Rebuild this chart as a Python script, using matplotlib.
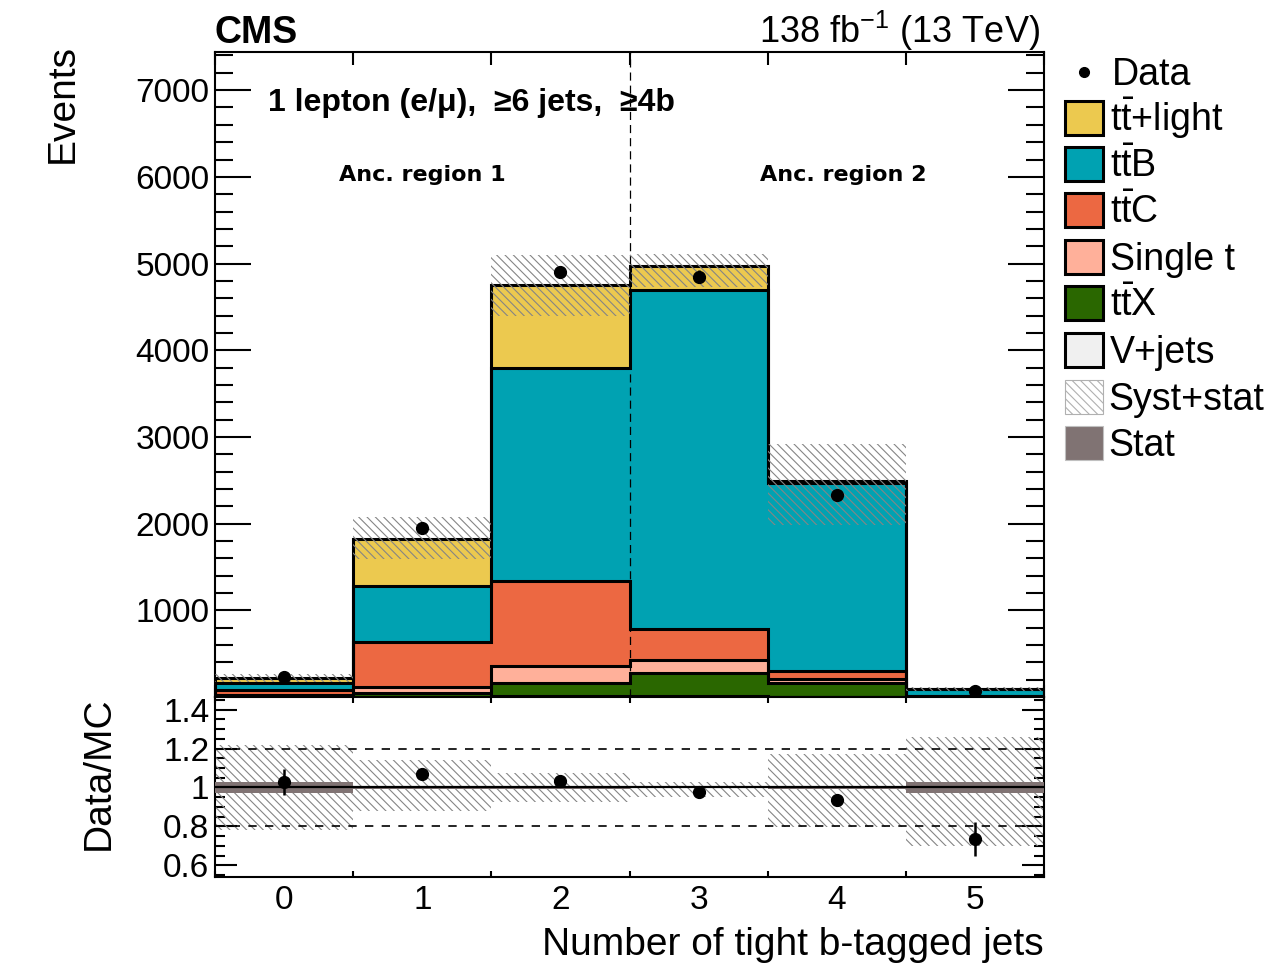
import numpy as np
import matplotlib
matplotlib.use("Agg")
import matplotlib.pyplot as plt
from matplotlib.patches import Rectangle
from matplotlib.lines import Line2D
from matplotlib.ticker import MultipleLocator, FuncFormatter

plt.rcParams['font.family'] = ['Liberation Sans', 'DejaVu Sans']
plt.rcParams['mathtext.fontset'] = 'custom'
plt.rcParams['mathtext.rm'] = 'Liberation Sans'
plt.rcParams['mathtext.it'] = 'Liberation Sans:italic'
plt.rcParams['mathtext.bf'] = 'Liberation Sans:bold'
plt.rcParams['hatch.linewidth'] = 0.8

# number of tight b-tagged jets (bins 0..5)
n_btag = np.arange(6)

# expected yields per process, stacked bottom -> top
vjets   = np.array([2, 5, 10, 10, 5, 1])
ttx     = np.array([8, 45, 155, 263, 156, 3])
singlet = np.array([8, 70, 193, 154, 50, 2])
ttc     = np.array([58, 520, 980, 354, 92, 6])
ttb     = np.array([80, 640, 2457, 3913, 2160, 80])
ttlight = np.array([66, 540, 957, 277, 28, 3])

data = np.array([228, 1947, 4900, 4850, 2325, 70])

# relative uncertainties on the total prediction
syst_up   = np.array([0.218, 0.140, 0.074, 0.027, 0.171, 0.26])
syst_down = np.array([0.220, 0.123, 0.074, 0.048, 0.204, 0.30])
stat_unc  = np.array([0.028, 0.010, 0.006, 0.005, 0.008, 0.030])

processes = [
    ('V+jets', vjets, '#f0f0f0'),
    (r'$\mathrm{t\bar{t}}$X', ttx, '#2a6700'),
    ('Single t', singlet, '#ffb09a'),
    (r'$\mathrm{t\bar{t}}$C', ttc, '#ec6842'),
    (r'$\mathrm{t\bar{t}}$B', ttb, '#00a2b2'),
    (r'$\mathrm{t\bar{t}}$+light', ttlight, '#ecc94f'),
]

edges = np.append(n_btag - 0.5, n_btag[-1] + 0.5)
total = sum(p[1] for p in processes).astype(float)

W, H = 1287, 969
fig = plt.figure(figsize=(W / 100, H / 100), dpi=100)
ax = fig.add_axes([215 / W, 1 - 697 / H, 829 / W, 645 / H])
rax = fig.add_axes([215 / W, 1 - 877 / H, 829 / W, 180 / H], sharex=ax)

hatch = '\\\\\\\\'
hatch_col = '#858585'

# stacked histograms
cum = np.zeros(6)
levels = []
for label, vals, col in processes:
    top = cum + vals
    ax.stairs(top, edges, baseline=cum, fill=True, color=col, lw=0, zorder=2)
    levels.append(top)
    cum = top
for lev in levels:
    ax.stairs(lev, edges, baseline=0, color='k', lw=2.2, zorder=3)

# total uncertainty band
ax.bar(n_btag, total * (syst_up + syst_down), bottom=total * (1 - syst_down),
       width=1, fill=False, hatch=hatch, edgecolor=hatch_col, lw=0, zorder=4)

ax.errorbar(n_btag, data, yerr=np.sqrt(data), fmt='o', color='k', ms=8.5,
            elinewidth=1.8, capsize=0, zorder=6)

ax.axvline(2.5, color='k', lw=0.9, dashes=(6.5, 4), zorder=5)

ax.set_xlim(edges[0], edges[-1])
ax.set_ylim(0, 7440)
ax.set_yticks(np.arange(1000, 7001, 1000))
ax.yaxis.set_minor_locator(MultipleLocator(200))
ax.set_xticks(edges)
ax.tick_params(axis='both', which='both', direction='in', top=True, right=True,
               labelbottom=False, labelsize=24, width=1.5, pad=4)
ax.tick_params(axis='y', which='major', length=26)
ax.tick_params(axis='y', which='minor', length=13)
ax.tick_params(axis='x', which='major', length=9)
ax.tick_params(axis='x', which='minor', length=0)
for s in ax.spines.values():
    s.set_linewidth(1.5)

ax.set_ylabel('Events', fontsize=28, loc='top')
ax.yaxis.set_label_coords(-0.162, 1.012)

ax.text(0.064, 0.921, '1 lepton (e/μ),  ≥6 jets,  ≥4b',
        transform=ax.transAxes, fontsize=23, fontweight='bold', va='center')
ax.text(1.0, 0.809, 'Anc. region 1', transform=ax.get_xaxis_transform(),
        fontsize=16, fontweight='bold', family='DejaVu Sans', ha='center', va='center')
ax.text(4.05, 0.809, 'Anc. region 2', transform=ax.get_xaxis_transform(),
        fontsize=16, fontweight='bold', family='DejaVu Sans', ha='center', va='center')

fig.text(215 / W, 1 - 43 / H, 'CMS', fontsize=27, fontweight='bold', va='baseline')
fig.text(1040 / W, 1 - 43 / H, r'138 fb$^{-1}$ (13 TeV)', fontsize=26,
         ha='right', va='baseline')

# ratio panel
ratio = data / total
ratio_err = np.sqrt(data) / total
rax.bar(n_btag, syst_up + syst_down, bottom=1 - syst_down, width=1, fill=False,
        hatch=hatch, edgecolor=hatch_col, lw=0, zorder=2)
rax.bar(n_btag, 2 * stat_unc, bottom=1 - stat_unc, width=1, color='#807373',
        lw=0, zorder=3)
rax.axhline(1.0, color='k', lw=1.6, zorder=4)
for yv in (0.8, 1.2):
    rax.axhline(yv, color='k', lw=1.2, dashes=(5, 5), zorder=4)
rax.errorbar(n_btag, ratio, yerr=ratio_err, fmt='o', color='k', ms=8.5,
             elinewidth=1.8, capsize=0, zorder=6)

rax.set_ylim(0.54, 1.465)
rax.set_yticks([0.6, 0.8, 1.0, 1.2, 1.4])
rax.yaxis.set_minor_locator(MultipleLocator(0.05))
rax.yaxis.set_major_formatter(FuncFormatter(lambda v, _: f'{v:g}'))
rax.set_xticks(edges)
rax.set_xticklabels([])
rax.set_xticks(n_btag, minor=True)
rax.set_xticklabels([str(n) for n in n_btag], minor=True)
rax.tick_params(axis='both', which='both', direction='in', top=True, right=True,
                labelsize=24, width=1.5)
rax.tick_params(axis='y', which='major', length=16, pad=4)
rax.tick_params(axis='y', which='minor', length=7)
rax.tick_params(axis='x', which='major', length=4.5)
rax.tick_params(axis='x', which='minor', length=0, pad=6)
for s in rax.spines.values():
    s.set_linewidth(1.5)

rax.set_ylabel('Data/MC', fontsize=28, loc='top')
rax.yaxis.set_label_coords(-0.118, 1.0)
rax.set_xlabel('Number of tight b-tagged jets', fontsize=28, loc='right')
rax.xaxis.set_label_coords(1.0, -0.28)

# legend, drawn in figure pixel coordinates
def fx(x):
    return x / W


def fy(y):
    return 1 - y / H


rows = [72, 118, 164, 210, 257, 303, 350, 397, 443]
fig.add_artist(Line2D([fx(1084)], [fy(rows[0])], marker='o', color='k', ms=7,
                      transform=fig.transFigure))
fig.text(fx(1112), fy(rows[0] + 13), 'Data', fontsize=27, va='baseline')
entries = [(lab, col) for lab, _, col in reversed(processes)]
for (lab, col), yc in zip(entries, rows[1:7]):
    fig.add_artist(Rectangle((fx(1065), fy(yc + 17)), 38 / W, 34 / H,
                             facecolor=col, edgecolor='k', lw=2.2,
                             transform=fig.transFigure))
    fig.text(fx(1110), fy(yc + 13), lab, fontsize=27, va='baseline')
fig.add_artist(Rectangle((fx(1065), fy(rows[7] + 17)), 38 / W, 34 / H,
                         facecolor='white', edgecolor='#b0b0b0', hatch=hatch,
                         lw=0.8, transform=fig.transFigure))
fig.text(fx(1108), fy(rows[7] + 13), 'Syst+stat', fontsize=27, va='baseline')
fig.add_artist(Rectangle((fx(1065), fy(rows[8] + 17)), 38 / W, 34 / H,
                         facecolor='#807373', edgecolor='#c0c0c0', lw=0.8,
                         transform=fig.transFigure))
fig.text(fx(1108), fy(rows[8] + 13), 'Stat', fontsize=27, va='baseline')

fig.savefig('out.png', dpi=100)
